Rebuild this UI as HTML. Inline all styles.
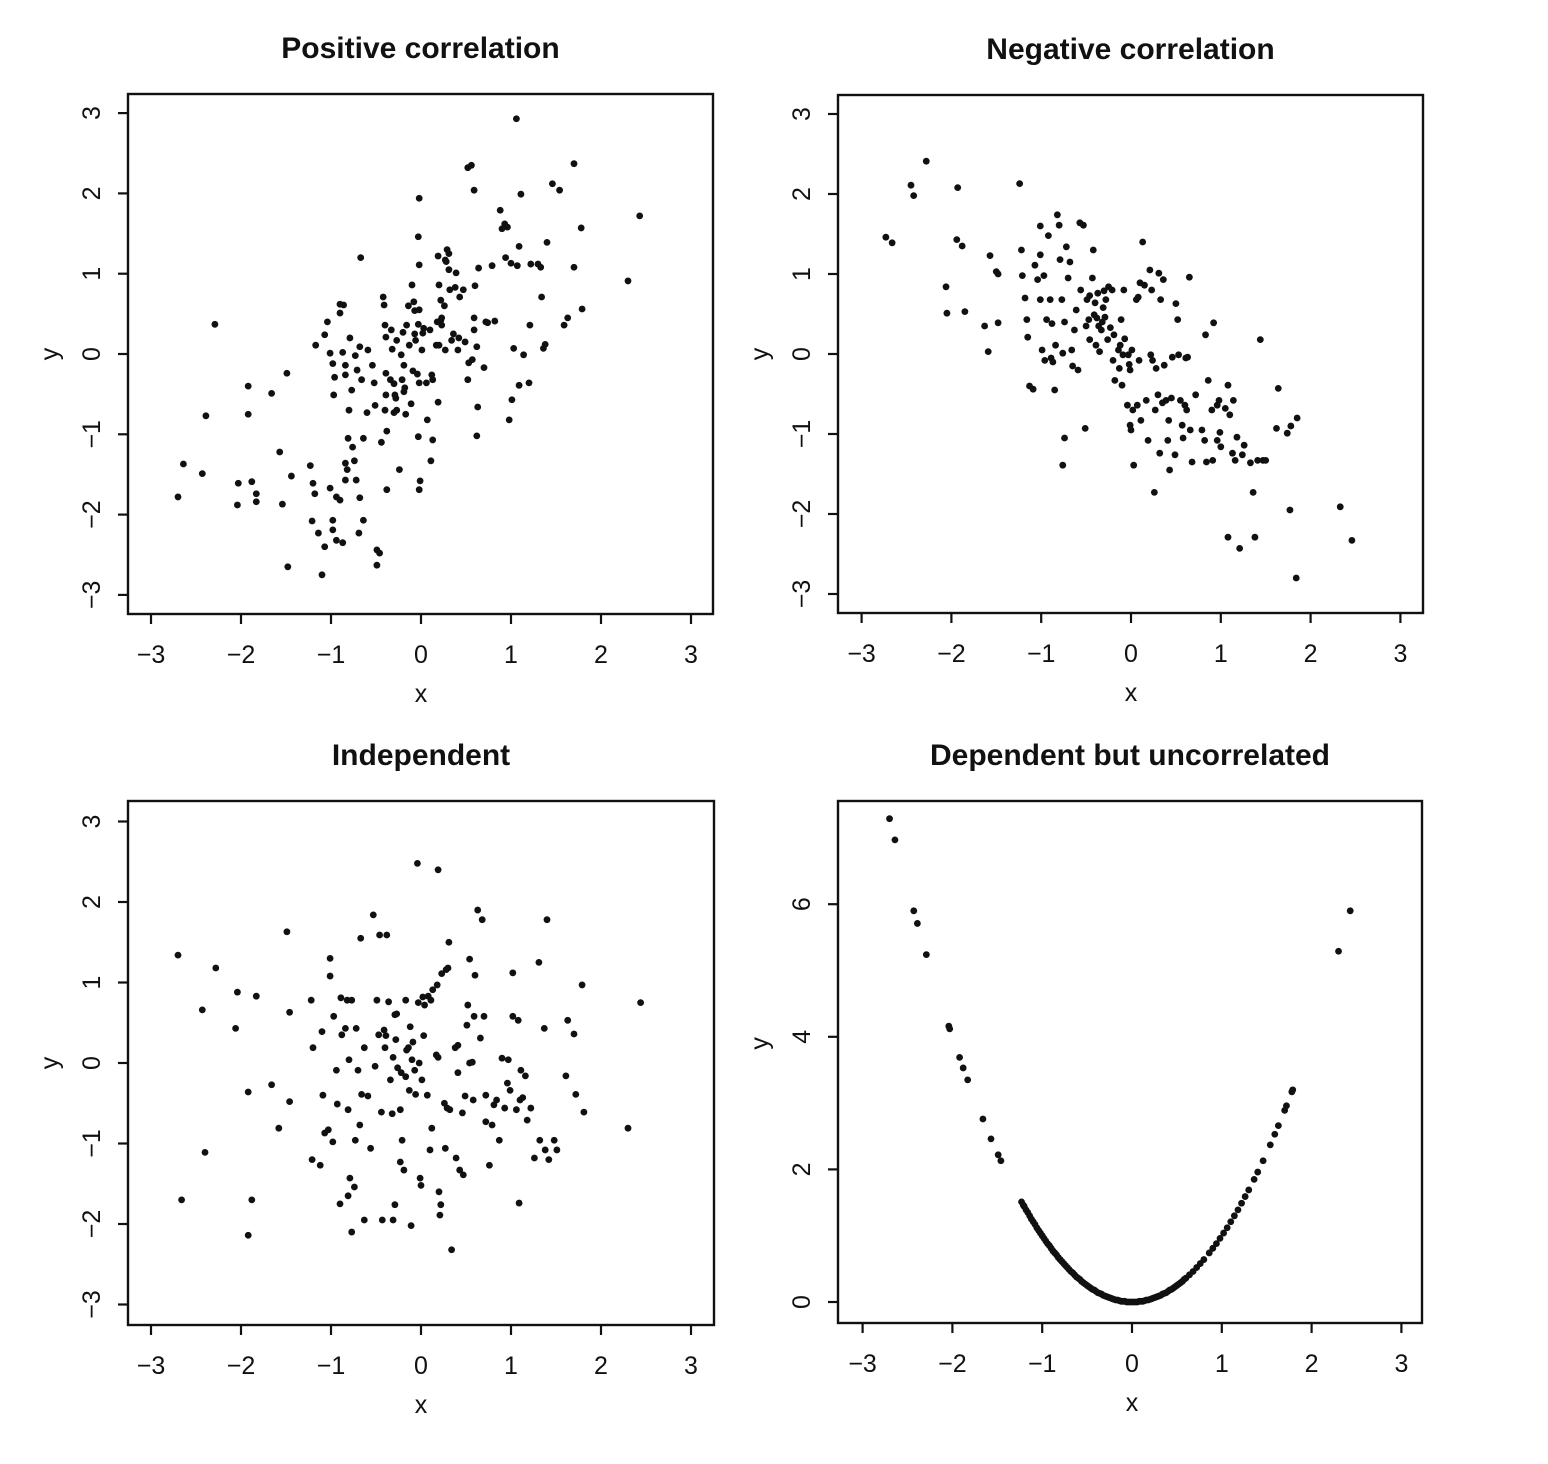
<!DOCTYPE html>
<html><head><meta charset="utf-8"><style>
html,body{margin:0;padding:0;background:#fff}
svg{display:block}
text{font-family:"Liberation Sans",Arial,sans-serif;fill:#111}
</style></head><body>
<svg id="chart" width="1548" height="1464" viewBox="0 0 1548 1464">
<rect width="1548" height="1464" fill="#fff"/>
</svg>
<script>
// Panel 1: positive correlation
const p1x=[-2.70,-2.64,-2.43,-2.39,-2.29,-2.04,-2.03,-1.92,-1.92,-1.88,-1.83,-1.83,-1.66,-1.57,-1.49,-1.48,-1.44,-1.54,-1.23,-1.20,-1.18,-1.10,-1.21,-1.14,-1.07,-1.04,-1.01,-0.98,-0.96,-0.97,-1.01,-0.98,-0.98,-0.94,-0.87,-0.94,-0.90,-0.84,-0.84,-0.82,-0.81,-0.87,-0.84,-0.84,-0.80,-0.90,-0.86,-0.79,-0.77,-0.73,-0.71,-0.68,-0.67,-0.66,-0.64,-0.76,-0.74,-0.72,-0.68,-0.69,-0.64,-0.60,-0.54,-0.52,-0.51,-0.49,-0.49,-0.46,-0.44,-0.42,-0.41,-0.40,-0.39,-0.39,-0.39,-0.40,-0.38,-0.38,-0.33,-0.32,-0.30,-0.30,-0.29,-0.28,-0.27,-0.27,-0.24,-0.22,-0.21,-0.20,-0.19,-0.18,-0.17,-0.16,-0.14,-0.13,-0.11,-0.10,-0.09,-0.08,-0.07,-0.07,-0.06,-0.04,-0.03,-0.03,-0.02,-0.03,-0.02,-0.02,-0.02,-0.01,0.01,0.02,0.03,0.06,0.07,0.10,0.11,0.12,0.13,0.13,0.17,0.18,0.19,0.19,0.20,0.20,0.22,0.22,0.23,0.23,0.26,0.27,0.27,0.28,0.29,0.31,0.31,0.32,0.34,0.36,0.38,0.39,0.41,0.42,0.43,0.47,0.49,0.52,0.52,0.53,0.56,0.57,0.59,0.59,0.59,0.60,0.62,0.62,0.63,0.64,0.70,0.72,0.74,0.79,0.82,0.88,0.90,0.93,0.94,0.96,0.98,1.00,1.01,1.03,1.06,1.07,1.09,1.09,1.11,1.14,1.20,1.21,1.22,1.30,1.33,1.34,1.36,1.38,1.40,1.46,1.54,1.59,1.63,1.70,1.70,1.78,1.79,2.30,2.43,-0.02,-0.19,-0.34,-0.59,-1.17,-1.07,-0.90];
const p1y=[-1.78,-1.37,-1.49,-0.77,0.37,-1.88,-1.61,-0.40,-0.75,-1.59,-1.84,-1.74,-0.49,-1.22,-0.24,-2.65,-1.52,-1.87,-1.39,-1.61,-1.74,-2.75,-2.08,-2.23,-2.40,0.40,0.01,-0.12,-0.29,-0.51,-1.67,-2.07,-2.19,-2.32,-2.35,-1.78,-1.82,-1.57,-1.36,-1.44,-1.05,0.02,-0.26,-0.14,-0.70,0.62,0.61,0.20,-0.45,-0.02,-0.20,0.09,1.20,-0.32,-1.05,-1.16,-1.33,-1.57,-1.79,-2.23,-2.07,-0.73,-0.14,-0.36,-0.64,-2.44,-2.63,-2.48,-1.10,0.71,0.61,0.36,0.21,-0.24,-0.51,-0.70,-0.96,-1.69,0.30,0.06,-0.37,-0.73,-0.51,-0.55,0.17,-0.70,-1.44,-0.01,-0.32,0.27,-0.14,-0.42,-0.75,0.36,0.60,0.11,-0.62,0.86,-0.21,0.65,0.54,0.25,0.17,-0.25,0.37,-1.03,1.94,1.46,1.11,0.55,-1.69,-1.58,0.05,0.26,0.32,-0.36,-0.82,0.30,-1.33,-0.26,-1.07,-0.32,0.11,0.40,-0.60,1.22,0.86,0.11,0.67,0.42,0.45,0.36,0.60,1.17,0.05,1.15,1.30,1.25,1.05,0.80,0.17,0.25,0.83,1.01,0.05,0.20,0.71,0.80,0.15,2.32,-0.32,-0.11,2.35,-0.07,2.04,0.45,0.30,0.85,0.09,-1.02,-0.66,1.07,-0.17,0.40,0.39,1.10,0.41,1.79,1.56,1.62,1.20,1.58,-0.82,1.13,-0.57,0.07,2.93,1.10,1.34,-0.39,1.99,-0.01,-0.36,0.36,1.12,1.12,1.08,0.71,0.07,0.12,1.39,2.12,2.04,0.36,0.45,1.08,2.37,1.57,0.56,0.91,1.72,-0.36,-0.47,-0.32,0.05,0.11,0.24,0.51];
// Panel 2: negative correlation
const p2x=[-2.73,-2.66,-2.45,-2.42,-2.28,-2.06,-2.05,-1.93,-1.94,-1.88,-1.85,-1.63,-1.59,-1.57,-1.50,-1.48,-1.48,-1.24,-1.22,-1.21,-1.18,-1.16,-1.15,-1.13,-1.09,-1.07,-1.04,-1.01,-1.01,-1.01,-0.99,-0.97,-0.96,-0.94,-0.92,-0.90,-0.89,-0.88,-0.87,-0.85,-0.84,-0.82,-0.80,-0.79,-0.77,-0.76,-0.76,-0.74,-0.74,-0.72,-0.70,-0.68,-0.66,-0.65,-0.63,-0.61,-0.59,-0.57,-0.56,-0.53,-0.51,-0.50,-0.49,-0.47,-0.46,-0.46,-0.43,-0.42,-0.41,-0.40,-0.39,-0.38,-0.37,-0.36,-0.35,-0.33,-0.32,-0.31,-0.30,-0.29,-0.28,-0.26,-0.25,-0.23,-0.21,-0.20,-0.19,-0.18,-0.14,-0.13,-0.12,-0.11,-0.10,-0.09,-0.08,-0.07,-0.04,-0.03,-0.02,-0.01,-0.01,0.00,0.01,0.02,0.03,0.06,0.07,0.08,0.09,0.10,0.11,0.13,0.15,0.17,0.19,0.21,0.22,0.23,0.24,0.26,0.27,0.28,0.30,0.31,0.32,0.33,0.35,0.36,0.37,0.39,0.41,0.42,0.43,0.45,0.46,0.49,0.50,0.52,0.53,0.55,0.57,0.58,0.60,0.61,0.62,0.63,0.65,0.66,0.68,0.72,0.79,0.82,0.83,0.84,0.86,0.90,0.91,0.92,0.96,0.96,0.98,0.99,1.00,1.05,1.08,1.08,1.10,1.13,1.14,1.16,1.18,1.21,1.24,1.26,1.33,1.36,1.38,1.41,1.44,1.47,1.50,1.62,1.64,1.74,1.77,1.78,1.84,1.85,2.33,2.46];
const p2y=[1.46,1.39,2.11,1.98,2.41,0.84,0.51,2.08,1.43,1.35,0.53,0.35,0.03,1.23,1.03,1.00,0.39,2.13,1.30,0.98,0.70,0.43,0.21,-0.40,-0.44,1.11,0.93,1.60,0.68,1.24,0.05,0.98,-0.08,0.43,1.48,0.68,-0.05,0.38,-0.10,-0.45,0.11,1.74,1.61,1.18,0.68,0.01,-1.39,-1.05,0.40,1.34,0.95,1.15,0.05,-0.15,0.30,0.55,-0.20,1.64,0.80,1.61,-0.93,0.35,0.68,0.43,0.18,0.73,0.95,1.30,0.49,0.64,0.11,0.45,0.76,0.35,0.03,0.30,0.40,0.58,0.79,0.46,0.68,0.18,0.84,0.33,0.80,-0.08,0.24,-0.33,0.05,-0.18,0.11,0.43,-0.39,-0.01,0.80,0.19,-0.64,-0.01,-0.13,-0.20,-0.89,-0.95,0.05,-0.70,-1.39,0.68,-0.64,0.71,-0.08,0.89,-0.83,1.40,0.86,-0.58,-1.08,1.05,-0.01,0.80,-0.08,-1.73,-0.70,-0.18,-0.51,1.01,-1.24,0.68,-0.61,0.93,-0.14,-0.58,-1.08,-0.83,-1.45,-0.55,-0.04,-1.26,0.63,0.43,-0.01,-0.58,-0.89,-1.05,-0.64,-0.05,-0.70,-0.04,0.96,-0.95,-1.35,-0.51,-0.95,-1.08,0.24,-1.35,-0.33,-0.70,-1.33,0.39,-1.08,-0.64,-0.58,-0.98,-1.16,-0.68,-2.29,-0.39,-0.76,-1.24,-0.58,-1.33,-1.04,-2.43,-1.26,-1.14,-1.36,-1.73,-2.29,-1.33,0.18,-1.33,-1.33,-0.93,-0.43,-0.99,-1.95,-0.90,-2.80,-0.80,-1.91,-2.33];
// Panel 3: independent
const p3x=[-2.70,-2.66,-2.43,-2.40,-2.28,-2.06,-2.04,-1.92,-1.92,-1.88,-1.83,-1.66,-1.58,-1.49,-1.46,-1.46,-1.22,-1.21,-1.20,-1.12,-1.10,-1.09,-1.07,-1.03,-1.01,-1.01,-0.98,-0.97,-0.94,-0.93,-0.90,-0.89,-0.88,-0.84,-0.82,-0.81,-0.81,-0.80,-0.79,-0.77,-0.77,-0.74,-0.73,-0.72,-0.70,-0.68,-0.67,-0.66,-0.63,-0.63,-0.59,-0.56,-0.53,-0.51,-0.49,-0.47,-0.46,-0.44,-0.43,-0.41,-0.40,-0.39,-0.38,-0.36,-0.34,-0.32,-0.31,-0.31,-0.29,-0.29,-0.28,-0.27,-0.26,-0.23,-0.23,-0.22,-0.21,-0.19,-0.17,-0.17,-0.16,-0.14,-0.13,-0.12,-0.11,-0.10,-0.09,-0.07,-0.06,-0.04,-0.03,-0.02,-0.01,0.00,0.01,0.02,0.03,0.04,0.07,0.08,0.10,0.11,0.12,0.13,0.17,0.18,0.19,0.19,0.20,0.21,0.22,0.23,0.26,0.27,0.28,0.29,0.30,0.31,0.32,0.34,0.38,0.39,0.41,0.41,0.43,0.46,0.47,0.49,0.51,0.52,0.54,0.54,0.57,0.58,0.59,0.60,0.63,0.66,0.68,0.70,0.72,0.72,0.76,0.79,0.81,0.84,0.87,0.90,0.93,0.96,0.97,0.99,1.02,1.02,1.06,1.08,1.09,1.10,1.11,1.13,1.16,1.18,1.22,1.26,1.31,1.32,1.37,1.38,1.40,1.42,1.48,1.51,1.61,1.63,1.70,1.72,1.79,1.81,2.30,2.44];
const p3y=[1.34,-1.70,0.66,-1.11,1.18,0.43,0.88,-0.36,-2.14,-1.70,0.83,-0.27,-0.81,1.63,0.63,-0.48,0.78,-1.20,0.19,-1.27,0.39,-0.40,-0.87,-0.83,1.30,1.08,-0.98,0.58,-0.09,-0.51,-1.75,0.81,0.35,0.43,0.78,-0.58,-1.65,0.04,-1.43,0.78,-2.10,-1.54,-0.96,0.43,-0.09,-0.77,1.55,-0.39,0.19,-1.95,-0.41,-1.06,1.84,-0.04,0.78,0.35,1.59,-0.61,-1.95,0.41,0.19,0.34,1.59,0.76,-0.21,-0.63,0.07,-1.95,-1.76,0.60,0.29,0.61,-0.06,-0.58,-1.23,-0.12,-0.96,-1.33,-0.17,0.78,0.16,0.19,-0.34,0.45,-2.02,0.04,0.26,-0.09,-0.39,2.48,0.75,0.00,-1.43,-1.52,-0.21,0.82,0.34,0.72,-0.40,0.83,-1.08,0.78,-0.81,0.91,0.10,0.97,2.40,0.07,-1.60,-1.89,-1.76,1.11,-0.50,-1.06,1.16,-0.56,1.18,1.50,-0.58,-2.32,0.19,-1.18,0.22,-0.12,-1.33,-0.62,-1.39,-0.41,0.47,0.72,0.00,1.29,0.01,-0.46,0.58,1.09,1.90,0.31,1.78,0.58,-0.40,-0.73,-1.27,-0.77,-0.52,-0.46,-0.96,0.06,-0.56,-0.25,0.04,-0.34,0.58,1.12,-0.58,0.53,-1.74,-0.46,-0.09,-0.43,-0.16,-0.71,-0.56,-1.18,1.25,-0.96,0.43,-1.08,1.78,-1.20,-0.96,-1.08,-0.16,0.53,0.36,-0.39,0.97,-0.61,-0.81,0.75];
// Panel 4: dependent but uncorrelated (y = x squared)
const p4x=[-2.70,-2.64,-2.43,-2.39,-2.29,-2.04,-2.03,-1.92,-1.88,-1.83,-1.66,-1.57,-1.49,-1.46,-1.23,-1.21,-1.20,-1.18,-1.16,-1.14,-1.12,-1.10,-1.08,-1.06,-1.04,-1.02,-1.00,-0.98,-0.96,-0.94,-0.92,-0.90,-0.88,-0.86,-0.84,-0.82,-0.80,-0.78,-0.76,-0.74,-0.72,-0.70,-0.68,-0.66,-0.64,-0.62,-0.60,-0.58,-0.56,-0.54,-0.52,-0.50,-0.48,-0.46,-0.44,-0.42,-0.40,-0.38,-0.36,-0.34,-0.32,-0.30,-0.28,-0.26,-0.24,-0.22,-0.20,-0.18,-0.16,-0.14,-0.12,-0.10,-0.08,-0.06,-0.04,-0.02,0.00,0.02,0.04,0.06,0.08,0.10,0.12,0.14,0.16,0.18,0.20,0.22,0.24,0.26,0.28,0.30,0.32,0.34,0.36,0.38,0.40,0.42,0.44,0.46,0.48,0.50,0.52,0.54,0.56,0.58,0.60,0.64,0.68,0.72,0.76,0.80,0.86,0.90,0.94,0.98,1.02,1.06,1.10,1.14,1.18,1.22,1.26,1.30,1.36,1.40,1.46,1.54,1.59,1.63,1.70,1.72,1.78,1.79,2.30,2.43];
const p4y=[7.29,6.97,5.90,5.71,5.24,4.16,4.12,3.69,3.53,3.35,2.76,2.46,2.22,2.13,1.51,1.46,1.44,1.39,1.35,1.30,1.25,1.21,1.17,1.12,1.08,1.04,1.00,0.96,0.92,0.88,0.85,0.81,0.77,0.74,0.71,0.67,0.64,0.61,0.58,0.55,0.52,0.49,0.46,0.44,0.41,0.38,0.36,0.34,0.31,0.29,0.27,0.25,0.23,0.21,0.19,0.18,0.16,0.14,0.13,0.12,0.10,0.09,0.08,0.07,0.06,0.05,0.04,0.03,0.03,0.02,0.01,0.01,0.01,0.00,0.00,0.00,0.00,0.00,0.00,0.00,0.01,0.01,0.01,0.02,0.03,0.03,0.04,0.05,0.06,0.07,0.08,0.09,0.10,0.12,0.13,0.14,0.16,0.18,0.19,0.21,0.23,0.25,0.27,0.29,0.31,0.34,0.36,0.41,0.46,0.52,0.58,0.64,0.74,0.81,0.88,0.96,1.04,1.12,1.21,1.30,1.39,1.49,1.59,1.69,1.85,1.96,2.13,2.37,2.53,2.66,2.89,2.96,3.17,3.20,5.29,5.90];
const xTicks=[-3,-2,-1,0,1,2,3];
const yTicksA=[-3,-2,-1,0,1,2,3];
const yTicksB=[0,2,4,6];
const titles=["Positive correlation","Negative correlation","Independent","Dependent but uncorrelated"];

const NS="http://www.w3.org/2000/svg";
const svg=document.getElementById('chart');
function mk(tag,attrs,parent){const e=document.createElementNS(NS,tag);for(const k in attrs)e.setAttribute(k,attrs[k]);(parent||svg).appendChild(e);return e;}

function panel(cfg,xs,ys,yt,title,key){
  const g=mk('g',{});
  
  
  const sx=v=>cfg.x0+v*cfg.kx, sy=v=>cfg.y0-v*cfg.ky;
  const t=mk('text',{x:(cfg.L+cfg.R)/2,y:cfg.T-36,'text-anchor':'middle','font-size':'30','font-weight':'bold'},g);
  t.textContent=title;
  
  
  const box=mk('rect',{x:cfg.L,y:cfg.T,width:cfg.R-cfg.L,height:cfg.B-cfg.T,fill:'none',stroke:'#111','stroke-width':2.4},g);
  
  
  xTicks.forEach(v=>{
    const px=sx(v);
    const tk=mk('line',{x1:px,x2:px,y1:cfg.B,y2:cfg.B+10,stroke:'#111','stroke-width':2.2},g);
    
    
    const lb=mk('text',{x:px,y:cfg.B+49,'text-anchor':'middle','font-size':'25'},g);
    lb.textContent=v<0?'\u2212'+(-v):String(v);
    
    
  });
  yt.forEach(v=>{
    const py=sy(v);
    const tk=mk('line',{x1:cfg.L-10,x2:cfg.L,y1:py,y2:py,stroke:'#111','stroke-width':2.2},g);
    
    
    const lb=mk('text',{x:0,y:0,'text-anchor':'middle','font-size':'25',transform:`translate(${cfg.L-28},${py}) rotate(-90)`},g);
    lb.textContent=v<0?'\u2212'+(-v):String(v);
    
    
  });
  const xl=mk('text',{x:sx(0),y:cfg.B+88,'text-anchor':'middle','font-size':'25'},g);
  xl.textContent='x';
  
  
  const yl=mk('text',{x:0,y:0,'text-anchor':'middle','font-size':'25',transform:`translate(${cfg.L-70},${sy(cfg.ymid)}) rotate(-90)`},g);
  yl.textContent='y';
  
  
  for(let i=0;i<xs.length;i++){
    const c=mk('circle',{cx:sx(xs[i]),cy:sy(ys[i]),r:3.4,fill:'#111'},g);
    
    
  }
}
panel({L:128,R:713,T:94,B:614,x0:421,kx:90,y0:354,ky:80.3,ymid:0},p1x,p1y,yTicksA,titles[0],'positive');
panel({L:838,R:1423,T:95,B:613,x0:1131,kx:89.8,y0:354,ky:80,ymid:0},p2x,p2y,yTicksA,titles[1],'negative');
panel({L:128,R:714,T:801,B:1325,x0:421,kx:90,y0:1063,ky:80.5,ymid:0},p3x,p3y,yTicksA,titles[2],'independent');
panel({L:838,R:1422,T:801,B:1323,x0:1132,kx:89.8,y0:1302,ky:66.3,ymid:3.9},p4x,p4y,yTicksB,titles[3],'dependent');
</script>
</body></html>
